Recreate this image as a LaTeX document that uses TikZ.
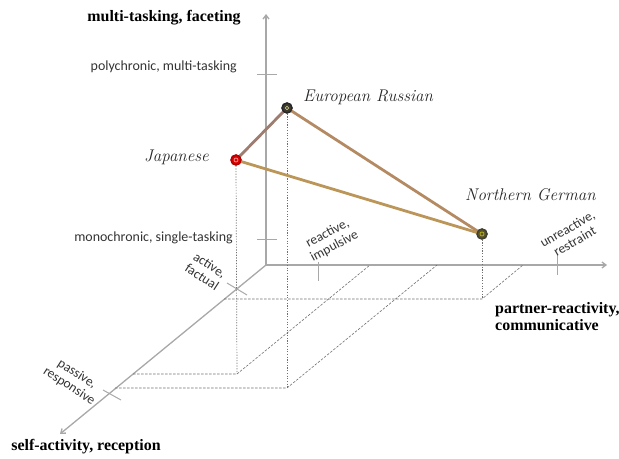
\documentclass[tikz,border=0pt]{standalone}
\usepackage{fontspec}
\newfontfamily\axisfont{Liberation Serif}
\newfontfamily\tickfont{Carlito}
\usetikzlibrary{arrows.meta}
\definecolor{axisgray}{HTML}{A8A8A8}
\definecolor{projgray}{HTML}{707070}
\definecolor{edgebrown}{HTML}{B48A62}
\definecolor{edgemauve}{HTML}{9E7C70}
\tikzset{
  axis/.style={draw=axisgray, line width=1.3bp, -{Straight Barb[length=4bp,width=6bp]}},
  tickmark/.style={draw=axisgray, line width=1bp},
  proj/.style={draw=projgray, line width=0.6bp, dash pattern=on 2.5bp off 1.5bp},
  projv/.style={draw=projgray, line width=0.7bp, dash pattern=on 1.2bp off 1.5bp},
  axistitle/.style={font=\axisfont\bfseries\fontsize{16}{18}\selectfont, text=black},
  ticklabel/.style={font=\tickfont\fontsize{14}{16}\selectfont, text=black!80, inner sep=0pt},
  rotlabel/.style={font=\tickfont\fontsize{13.5}{14.5}\selectfont, text=black!80, align=center, inner sep=0pt},
  culture/.style={font=\itshape\fontsize{17}{19}\selectfont, text=black!85, inner sep=0pt},
  dot/.style={circle, minimum size=10bp, inner sep=0pt, line width=1.3bp},
  edge/.style={line width=2.8bp, line cap=round},
}
\begin{document}
\begin{tikzpicture}[x=1bp, y=-1bp]
\useasboundingbox (0,0) rectangle (619,459);

% axes
\coordinate (O) at (266,265);
\coordinate (ytop) at (266,14);
\coordinate (xend) at (607,265);
\coordinate (zend) at (60,434);
\draw[axis] (O) -- (ytop);
\draw[axis] (O) -- (xend);
\draw[axis] (O) -- (zend);

% tick marks
\draw[tickmark] (257,75) -- (277,75);
\draw[tickmark] (257,240) -- (277,240);
\draw[tickmark] (318,262) -- (318,281);
\draw[tickmark] (557,254) -- (557,275);
\draw[tickmark] (227,283) -- (247,295);
\draw[tickmark] (103,390) -- (121,400);

% data points
\node[dot, draw=red!70!black, fill=red!80!black] (jp) at (236,160) {};
\node[dot, draw=black!85, fill=black!75!olive] (ru) at (287,108) {};
\node[dot, draw=black!80!olive, fill=olive!60!black] (de) at (482,234) {};

% floor projections
\coordinate (jpf) at (237,374);
\coordinate (ruf) at (287,388);
\coordinate (def) at (482,299);
\coordinate (jpz) at (133,374);
\coordinate (ruz) at (115,388);
\coordinate (dez) at (224,299);
\coordinate (jpx) at (370,265);
\coordinate (rux) at (437,265);
\coordinate (dex) at (523,265);

\draw[projv] (jp.south) -- (jpf);
\draw[projv] (ru.south) -- (ruf);
\draw[projv] (de.south) -- (def);
\draw[proj] (jpz) -- (jpf) -- (jpx);
\draw[proj] (ruz) -- (ruf) -- (rux);
\draw[proj] (dez) -- (def) -- (dex);

% triangle
\draw[edge, edgemauve] (jp) -- (ru);
\draw[edge, edgebrown] (ru) -- (de);
\draw[edge, edgebrown!90!yellow] (jp) -- (de);

% redraw dots on top
\node[dot, draw=red!70!black, fill=red!85!black] at (jp) {};
\node[circle, minimum size=4bp, inner sep=0pt, draw=red!30, line width=0.6bp] at (jp) {};
\node[dot, draw=black!85, fill=black!75!olive] at (ru) {};
\node[circle, minimum size=3.5bp, inner sep=0pt, draw=white!70!olive, line width=0.6bp] at (ru) {};
\node[dot, draw=black!70!olive, fill=olive!50!black] at (de) {};
\node[circle, minimum size=4bp, inner sep=0pt, draw=yellow!60!olive, line width=0.6bp] at (de) {};

% axis titles
\node[axistitle] (ytitle) at (164,18) {multi-tasking, faceting};
\node[axistitle, anchor=north west, align=left, inner sep=0pt] (xtitle) at (495,302) {partner-reactivity,\\[-1bp]communicative};
\node[axistitle] (ztitle) at (86,447) {self-activity, reception};

% tick labels
\node[ticklabel, anchor=east] (poly) at (237,67) {polychronic, multi-tasking};
\node[ticklabel, anchor=east] (mono) at (233,238) {monochronic, single-tasking};
\node[rotlabel, rotate=-33] (act) at (206,271) {active,\\factual};
\node[rotlabel, rotate=28] (react) at (331,240) {reactive,\\impulsive};
\node[rotlabel, rotate=30] (unreact) at (571,235) {unreactive,\\restraint};
\node[rotlabel, rotate=-33] (pass) at (73,380) {passive,\\responsive};

% culture labels
\node[culture, anchor=west] (rulab) at (303,97) {European Russian};
\node[culture, anchor=east] (jplab) at (209,157) {Japanese};
\node[culture, anchor=west] (delab) at (465,195) {Northern German};
\end{tikzpicture}
\end{document}
